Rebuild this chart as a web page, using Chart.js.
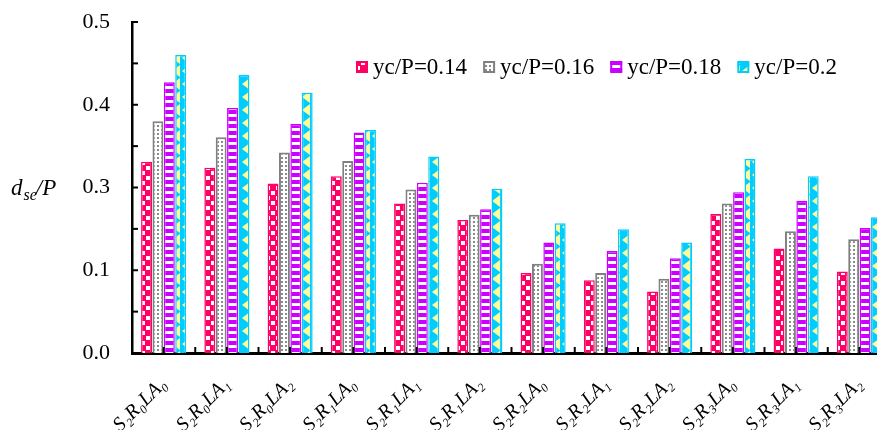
<!DOCTYPE html>
<html>
<head>
<meta charset="utf-8">
<script src="https://cdn.jsdelivr.net/npm/chart.js@4.4.0/dist/chart.umd.min.js"></script>
<style>
  html, body { margin: 0; padding: 0; background: #fff; overflow: hidden; }
  #wrap { position: absolute; left: 0; top: 0; width: 900px; height: 430px; }
</style>
</head>
<body>
<div id="wrap"><canvas id="c" width="900" height="430"></canvas></div>
<script>
const categories = ['S₂R₀LA₀', 'S₂R₀LA₁', 'S₂R₀LA₂', 'S₂R₁LA₀', 'S₂R₁LA₁', 'S₂R₁LA₂',
                    'S₂R₂LA₀', 'S₂R₂LA₁', 'S₂R₂LA₂', 'S₂R₃LA₀', 'S₂R₃LA₁', 'S₂R₃LA₂'];
const seriesNames = ['yc/P=0.14', 'yc/P=0.16', 'yc/P=0.18', 'yc/P=0.2'];
const yc014 = [0.289, 0.280, 0.256, 0.267, 0.226, 0.201, 0.121, 0.110, 0.093, 0.210, 0.158, 0.123];
const yc016 = [0.350, 0.326, 0.303, 0.290, 0.247, 0.209, 0.135, 0.121, 0.112, 0.226, 0.184, 0.172];
const yc018 = [0.409, 0.370, 0.346, 0.333, 0.257, 0.217, 0.167, 0.154, 0.143, 0.243, 0.230, 0.189];
const yc020 = [0.450, 0.420, 0.393, 0.337, 0.297, 0.248, 0.196, 0.187, 0.167, 0.293, 0.267, 0.205];
// axis runs 0..0.5, major every 0.125 (labels rounded to 1 dp), minor every 0.0625
const yMax = 0.5, yStep = 0.0625;

const ctx0 = document.getElementById('c').getContext('2d');
function tile(w, h, draw) {
  const c = document.createElement('canvas');
  c.width = w; c.height = h;
  draw(c.getContext('2d'));
  return ctx0.createPattern(c, 'repeat');
}
const redFill = tile(10, 10, g => {
  g.fillStyle = '#ff0066'; g.fillRect(0, 0, 10, 10);
  g.fillStyle = '#fff'; g.fillRect(1, 1, 4, 4); g.fillRect(6, 6, 4, 4);
});
const grayFill = tile(4, 4, g => {
  g.fillStyle = '#fff'; g.fillRect(0, 0, 4, 4);
  g.fillStyle = '#8a8a8a'; g.fillRect(1, 1, 2, 2);
});
const purpleFill = tile(4, 7, g => {
  g.fillStyle = '#cc00ff'; g.fillRect(0, 0, 4, 7);
  g.fillStyle = '#fff'; g.fillRect(0, 2, 4, 3);
});
const cyanFill = tile(10, 13, g => {
  g.fillStyle = '#00ccff'; g.fillRect(0, 0, 10, 13);
  g.fillStyle = '#ffff99';
  g.beginPath(); g.moveTo(10, 0); g.lineTo(10, 12); g.lineTo(2, 6); g.closePath(); g.fill();
});

const fills = [redFill, grayFill, purpleFill, cyanFill];
const edges = ['#ff0066', '#808080', '#cc00ff', '#00ccff'];
const values = [yc014, yc016, yc018, yc020];

const decor = {
  id: 'decor',
  afterDatasetsDraw(chart) {
    const { ctx, chartArea: a, scales: { x, y } } = chart;
    ctx.save();
    ctx.strokeStyle = '#000';
    ctx.lineWidth = 2;
    // inward tick marks
    y.ticks.forEach((t, i) => {
      const py = y.getPixelForTick(i);
      ctx.beginPath(); ctx.moveTo(a.left, py); ctx.lineTo(a.left + 6, py); ctx.stroke();
    });
    const half = (x.getPixelForValue(1) - x.getPixelForValue(0)) / 2;
    for (let i = 0; i <= categories.length; i++) {
      [x.getPixelForValue(i) - half, x.getPixelForValue(i)].forEach(px => {
        ctx.beginPath(); ctx.moveTo(px, a.bottom); ctx.lineTo(px, a.bottom - 6); ctx.stroke();
      });
    }
    // y title d_se/P
    ctx.fillStyle = '#000';
    ctx.textBaseline = 'alphabetic';
    ctx.textAlign = 'left';
    let tx = 11;
    ctx.font = 'italic 23px "Liberation Serif"';
    ctx.fillText('d', tx, 195); tx += ctx.measureText('d').width + 1;
    ctx.font = 'italic 16px "Liberation Serif"';
    ctx.fillText('se', tx, 200); tx += ctx.measureText('se').width - 1;
    ctx.font = 'italic 23px "Liberation Serif"';
    ctx.fillText('/P', tx, 195);
    // legend inside plot
    ctx.font = '23px "Liberation Serif"';
    let lx = 356;
    seriesNames.forEach((name, i) => {
      ctx.fillStyle = fills[i];
      ctx.fillRect(lx, 61, 12, 12);
      ctx.strokeStyle = edges[i];
      ctx.lineWidth = 2;
      ctx.strokeRect(lx + 1, 62, 10, 10);
      ctx.fillStyle = '#000';
      ctx.fillText(name, lx + 17, 74);
      lx += 17 + ctx.measureText(name).width + 16;
    });
    ctx.restore();
  }
};

new Chart(document.getElementById('c'), {
  type: 'bar',
  data: {
    labels: categories,
    datasets: seriesNames.map((name, i) => ({
      label: name,
      data: values[i],
      backgroundColor: fills[i],
      borderColor: edges[i],
      borderWidth: i === 1 ? 2 : 1.5,
      borderSkipped: 'start',
      categoryPercentage: 0.72,
      barPercentage: 0.96
    }))
  },
  options: {
    responsive: false,
    animation: false,
    layout: { padding: { top: 22, right: 9, left: 0, bottom: 0 } },
    plugins: { legend: { display: false }, tooltip: { enabled: false } },
    scales: {
      x: {
        grid: { display: false },
        border: { color: '#000', width: 3 },
        afterFit: s => { s.height = 77; },
        ticks: {
          color: '#000',
          font: { family: 'Liberation Serif', size: 20, style: 'italic' },
          minRotation: 45, maxRotation: 45,
          autoSkip: false,
          padding: 12
        }
      },
      y: {
        min: 0, max: yMax,
        grid: { display: false },
        border: { color: '#000', width: 2.5 },
        afterFit: s => { s.width = 132; s.paddingTop = 0; s.paddingBottom = 0; },
        ticks: {
          stepSize: yStep,
          autoSkip: false,
          color: '#000',
          padding: 14,
          font: { family: 'Liberation Serif', size: 22 },
          callback: (v, i) => i % 2 === 0 ? v.toFixed(1) : ''
        }
      }
    }
  },
  plugins: [decor]
});
</script>
</body>
</html>
